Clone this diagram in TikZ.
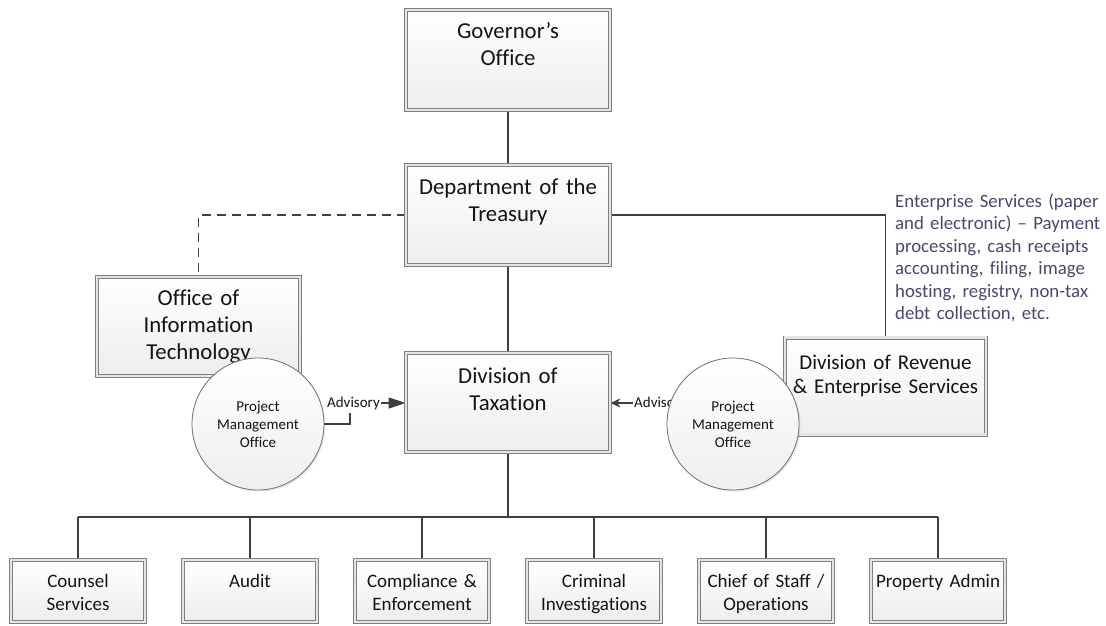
\documentclass[tikz,border=0pt]{standalone}
\usepackage{fontspec}
\setmainfont{Carlito}[Ligatures=NoCommon]
\usetikzlibrary{arrows.meta,shadows}
\definecolor{linec}{RGB}{64,64,64}
\definecolor{boxline}{RGB}{128,128,128}
\definecolor{boxgap}{RGB}{228,228,228}
\definecolor{circline}{RGB}{110,110,110}
\definecolor{enttext}{RGB}{78,68,112}
\definecolor{txtc}{RGB}{20,20,20}
\pgfdeclarelayer{bg}
\pgfsetlayers{bg,main}
\tikzset{
  orgbox/.style={draw=boxline, line width=0.8pt, double=boxgap, double distance=2.4pt,
    top color=white, bottom color=gray!14, inner sep=0pt,
    drop shadow={shadow xshift=2pt, shadow yshift=-2pt, opacity=0.22, fill=gray}},
  bigtxt/.style={align=center, text width=200pt, inner sep=0pt, text=txtc,
    font=\fontsize{22.8pt}{27pt}\selectfont},
  midtxt/.style={align=center, text width=200pt, inner sep=0pt, text=txtc,
    font=\fontsize{21pt}{24pt}\selectfont},
  smalltxt/.style={align=center, text width=134pt, inner sep=0pt, text=txtc,
    font=\fontsize{19pt}{23pt}\selectfont},
  pmocirc/.style={circle, draw=circline, line width=0.8pt, minimum size=132pt, inner sep=0pt,
    top color=white, bottom color=gray!13,
    drop shadow={shadow xshift=1.5pt, shadow yshift=-1.5pt, opacity=0.18, fill=gray}},
  pmotxt/.style={align=center, text width=120pt, inner sep=0pt, text=txtc,
    font=\fontsize{15pt}{18pt}\selectfont},
  advl/.style={font=\fontsize{15pt}{18pt}\selectfont, fill=white, text=txtc,
    inner xsep=1pt, inner ysep=4pt},
  enttxt/.style={align=left, text width=200pt, inner sep=0pt, text=enttext,
    font=\fontsize{18.8pt}{22.4pt}\selectfont},
  conn/.style={draw=linec, line width=1.1pt},
  child/.style={orgbox, minimum width=134pt, minimum height=62pt},
}
\begin{document}
\begin{tikzpicture}[x=1pt,y=-1pt]
\useasboundingbox (0,0) rectangle (1106,626);

% main boxes
\node[orgbox, minimum width=204pt, minimum height=100pt] (gov) at (508,60) {};
\node[bigtxt, anchor=base] (govt) at (508,39) {Governor’s\\Office};

\node[orgbox, minimum width=204pt, minimum height=100pt] (treas) at (508,215) {};
\node[bigtxt, anchor=base] (treast) at (508,194) {Department of the\\Treasury};

\node[orgbox, minimum width=203pt, minimum height=99pt] (oit) at (198.5,326.5) {};
\node[bigtxt, anchor=base] (oitt) at (198.5,305) {Office of\\Information\\Technology};

\node[orgbox, minimum width=201pt, minimum height=97pt] (dres) at (885.5,386) {};
\node[midtxt, anchor=base] (drest) at (885.5,369) {Division of Revenue\\\& Enterprise Services};

\node[orgbox, minimum width=204pt, minimum height=99pt] (tax) at (508,402.5) {};
\node[bigtxt, anchor=base] (taxt) at (508,383) {Division of\\Taxation};

% children
\node[child] (c1) at (78,591) {};
\node[smalltxt, anchor=base] (c1t) at (78,587) {Counsel\\Services};
\node[child] (c2) at (250,591) {};
\node[smalltxt, anchor=base] (c2t) at (250,587) {Audit};
\node[child] (c3) at (422,591) {};
\node[smalltxt, anchor=base] (c3t) at (422,587) {Compliance \&\\Enforcement};
\node[child] (c4) at (594,591) {};
\node[smalltxt, anchor=base] (c4t) at (594,587) {Criminal\\Investigations};
\node[child] (c5) at (766,591) {};
\node[smalltxt, anchor=base] (c5t) at (766,587) {Chief of Staff /\\Operations};
\node[child] (c6) at (938,591) {};
\node[smalltxt, anchor=base] (c6t) at (938,587) {Property Admin};

% enterprise services note
\node[enttxt, anchor=base west] (ent) at (895,207.5) {\mbox{Enterprise Services (paper}\\\mbox{and electronic) – Payment}\\\mbox{processing, cash receipts}\\\mbox{accounting, filing, image}\\\mbox{hosting, registry, non-tax}\\\mbox{debt collection, etc.}};

% project management offices
\node[pmocirc] (lpmo) at (258,424) {};
\node[pmotxt, anchor=base] (lpmot) at (258,411) {Project\\Management\\Office};
\node[pmocirc] (rpmo) at (733,424) {};
\node[pmotxt, anchor=base] (rpmot) at (733,411) {Project\\Management\\Office};

% connectors
\coordinate (bus) at (508,517);
\coordinate (la) at (350,403);
\coordinate (ra) at (700,403);
\begin{pgfonlayer}{bg}
\draw[conn] (gov.south) -- (treas.north);
\draw[conn] (treas.south) -- (tax.north);
\draw[conn, dash pattern=on 9pt off 6pt] (treas.west) -| (oit.north);
\draw[conn] (treas.east) -| (dres.north);
\draw[conn] (tax.south) -- (bus);
\draw[conn] (c1.north |- bus) -- (c6.north |- bus);
\draw[conn] (c1.north |- bus) -- (c1.north);
\draw[conn] (c2.north |- bus) -- (c2.north);
\draw[conn] (c3.north |- bus) -- (c3.north);
\draw[conn] (c4.north |- bus) -- (c4.north);
\draw[conn] (c5.north |- bus) -- (c5.north);
\draw[conn] (c6.north |- bus) -- (c6.north);
\draw[conn, -{Triangle[length=17pt,width=11pt]}] (lpmo.east) -| (la) -- (la -| tax.west);
\node[advl] (ladv) at (353.5,403) {Advisory};
\draw[conn, -{Stealth[length=10pt,width=9pt]}] (ra) -- (ra -| tax.east);
\node[advl, anchor=west] (radv) at (633,403) {Advisory};
\end{pgfonlayer}
\end{tikzpicture}
\end{document}
